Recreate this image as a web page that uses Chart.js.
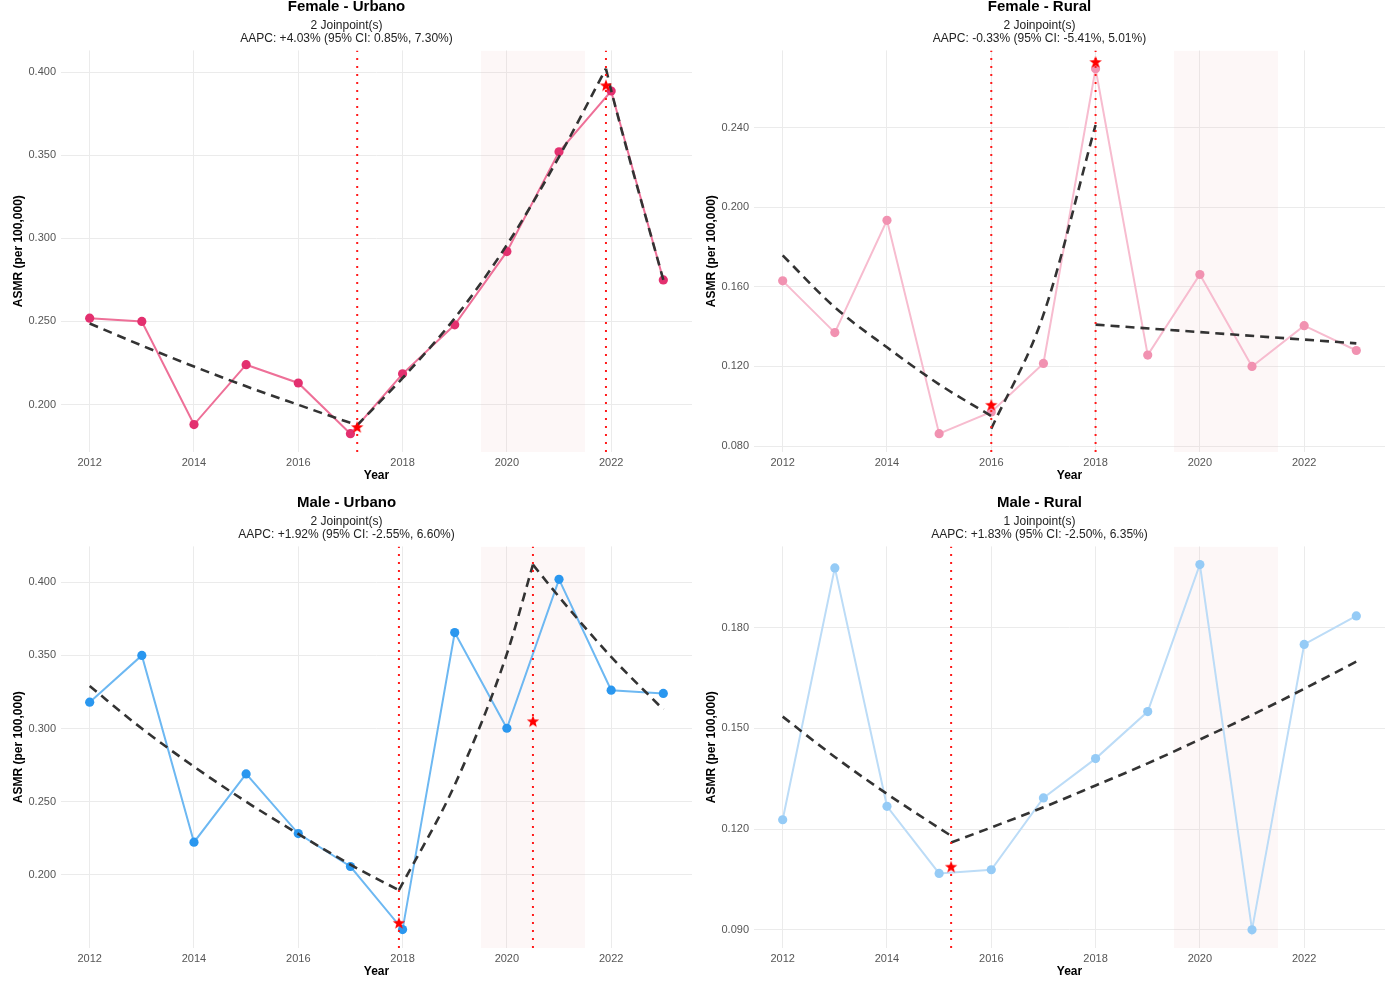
<!DOCTYPE html>
<html>
<head>
<meta charset="utf-8">
<script src="https://cdn.jsdelivr.net/npm/chart.js@4.4.1/dist/chart.umd.min.js"></script>
<style>
  html, body { margin: 0; padding: 0; background: #fff; overflow: hidden; }
  #page { position: relative; width: 1400px; height: 991px; }
  .panel { position: absolute; width: 700px; height: 496px; }
</style>
</head>
<body>
<div id="page">
  <div class="panel" style="left:0;top:-6px"><canvas id="c1"></canvas></div>
  <div class="panel" style="left:693px;top:-6px"><canvas id="c2"></canvas></div>
  <div class="panel" style="left:0;top:490px"><canvas id="c3"></canvas></div>
  <div class="panel" style="left:693px;top:490px"><canvas id="c4"></canvas></div>
</div>
<script>
// observed ASMR per year
const years = [2012, 2013, 2014, 2015, 2016, 2017, 2018, 2019, 2020, 2021, 2022, 2023];
const femaleUrbano = [0.252, 0.250, 0.188, 0.224, 0.213, 0.1825, 0.2185, 0.248, 0.292, 0.352, 0.3886, 0.275];
const femaleRural = [0.163, 0.137, 0.1934, 0.0862, 0.0971, 0.1215, 0.2696, 0.1257, 0.1662, 0.120, 0.1405, 0.128];
const maleUrbano = [0.318, 0.350, 0.2223, 0.269, 0.2282, 0.2057, 0.1626, 0.3656, 0.3002, 0.402, 0.3262, 0.324];
const maleRural = [0.1228, 0.1978, 0.1268, 0.1068, 0.1079, 0.1293, 0.141, 0.155, 0.1988, 0.090, 0.175, 0.1835];

// joinpoint fitted segments (dashed)
const femaleUrbanoFitX = [
    [2012, 2013, 2014, 2015, 2016, 2017, 2017.13],
    [2017.13, 2018, 2019, 2020, 2021, 2021.9],
    [2021.9, 2022, 2023]];
const femaleUrbanoFitY = [
    [0.2488, 0.2355, 0.2229, 0.211, 0.1999, 0.189, 0.1877],
    [0.1877, 0.216, 0.252, 0.296, 0.349, 0.402],
    [0.402, 0.389, 0.275]];
const femaleRuralFitX = [
    [2012, 2013, 2014, 2015, 2016],
    [2016, 2017, 2018],
    [2018, 2023]];
const femaleRuralFitY = [
    [0.1758, 0.1497, 0.1296, 0.111, 0.0951],
    [0.0887, 0.146, 0.2413],
    [0.141, 0.1316]];
const maleUrbanoFitX = [
    [2012, 2013, 2014, 2015, 2016, 2017, 2017.93],
    [2017.93, 2019, 2020, 2020.5],
    [2020.5, 2021, 2022, 2023]];
const maleUrbanoFitY = [
    [0.329, 0.300, 0.274, 0.250, 0.228, 0.207, 0.1895],
    [0.1895, 0.2615, 0.351, 0.412],
    [0.412, 0.390, 0.349, 0.313]];
const maleRuralFitX = [
    [2012, 2013, 2014, 2015, 2015.23],
    [2015.23, 2016, 2017, 2018, 2019, 2020, 2021, 2022, 2023]];
const maleRuralFitY = [
    [0.1535, 0.1415, 0.1305, 0.1203, 0.118],
    [0.116, 0.1205, 0.1265, 0.133, 0.1396, 0.1467, 0.154, 0.1618, 0.1699]];

// joinpoints and star markers
const femaleUrbanoJP = [2017.13, 2021.9];
const femaleUrbanoStar = [0.1865, 0.392];
const femaleRuralJP = [2016, 2018];
const femaleRuralStar = [0.1007, 0.273];
const maleUrbanoJP = [2017.93, 2020.5];
const maleUrbanoStar = [0.1672, 0.305];
const maleRuralJP = [2015.23];
const maleRuralStar = [0.1088];

// shaded period
const shadeYears = [2019.5, 2021.5];

// axes
const xRange = [2011.45, 2023.55];
const xTicks = [2012, 2014, 2016, 2018, 2020, 2022];
const femaleUrbanoRange = [0.1715, 0.413];
const femaleRuralRange = [0.077, 0.2788];
const maleUrbanoRange = [0.150, 0.4245];
const maleRuralRange = [0.0846, 0.2042];
const femaleUrbanoTicks = [0.200, 0.250, 0.300, 0.350, 0.400];
const femaleRuralTicks = [0.080, 0.120, 0.160, 0.200, 0.240];
const maleUrbanoTicks = [0.200, 0.250, 0.300, 0.350, 0.400];
const maleRuralTicks = [0.090, 0.120, 0.150, 0.180];

const FONT = "'Liberation Sans', Arial, Helvetica, sans-serif";
Chart.defaults.font.family = FONT;

// red star marker
function makeStar() {
    const c = document.createElement('canvas');
    c.width = 14; c.height = 14;
    const g = c.getContext('2d');
    g.fillStyle = '#ff0000';
    g.beginPath();
    for (let i = 0; i < 10; i++) {
        const r = i % 2 === 0 ? 6.5 : 2.7;
        const a = -Math.PI / 2 + i * Math.PI / 5;
        const px = 7 + r * Math.cos(a), py = 7.5 + r * Math.sin(a);
        if (i === 0) g.moveTo(px, py); else g.lineTo(px, py);
    }
    g.closePath();
    g.fill();
    return c;
}
const starImg = makeStar();

function buildChart(id, cfg) {
    const datasets = [];
    const yMin = cfg.range[0], yMax = cfg.range[1];

    datasets.push({
        data: [{x: shadeYears[0], y: yMax}, {x: shadeYears[1], y: yMax}],
        showLine: true, borderWidth: 0, pointRadius: 0,
        fill: 'start', backgroundColor: 'rgba(240, 190, 190, 0.12)',
        order: 10
    });

    datasets.push({
        data: years.map((y, i) => ({x: y, y: cfg.values[i]})),
        showLine: true, borderColor: cfg.lineColor, borderWidth: 2,
        pointRadius: 4.6, pointBackgroundColor: cfg.pointColor, pointBorderWidth: 0,
        order: 3
    });

    cfg.fitX.forEach((xs, k) => {
        datasets.push({
            data: xs.map((x, j) => ({x: x, y: cfg.fitY[k][j]})),
            showLine: true, borderColor: '#333333', borderWidth: 2.6,
            borderDash: [9, 6], pointRadius: 0, order: 2,
            cubicInterpolationMode: 'monotone'
        });
    });

    cfg.jp.forEach(j => {
        datasets.push({
            data: [{x: j, y: yMin}, {x: j, y: yMax}],
            showLine: true, borderColor: '#ff1a1a', borderWidth: 2,
            borderDash: [2, 6], pointRadius: 0, order: 1
        });
    });

    datasets.push({
        data: cfg.jp.map((j, i) => ({x: j, y: cfg.star[i]})),
        pointStyle: starImg, pointRadius: 7, order: 0
    });

    new Chart(document.getElementById(id), {
        type: 'scatter',
        data: {datasets},
        options: {
            responsive: true,
            maintainAspectRatio: false,
            animation: false,
            events: [],
            layout: {padding: {top: 0, right: 7, bottom: 0, left: 0}},
            plugins: {
                legend: {display: false},
                tooltip: {enabled: false},
                title: {
                    display: true, text: cfg.title, color: '#000',
                    font: {size: 15, weight: 'bold', lineHeight: 1.2},
                    padding: {top: 4, bottom: 0}
                },
                subtitle: {
                    display: true, text: cfg.subtitle, color: '#222',
                    font: {size: 12, lineHeight: 1.1},
                    padding: {top: 3, bottom: 5}
                }
            },
            scales: {
                x: {
                    type: 'linear', min: xRange[0], max: xRange[1],
                    afterBuildTicks: s => { s.ticks = xTicks.map(v => ({value: v})); },
                    afterFit: s => { s.height = 38; },
                    ticks: {
                        autoSkip: false, maxRotation: 0, padding: 4, color: '#555',
                        font: {size: 11}, callback: v => String(v)
                    },
                    grid: {color: '#ebebeb', lineWidth: 1, drawTicks: false},
                    border: {display: false},
                    title: {
                        display: true, text: 'Year', color: '#000',
                        font: {size: 12, weight: 'bold', lineHeight: 1.2},
                        padding: {top: 0, bottom: 7}
                    }
                },
                y: {
                    type: 'linear', min: yMin, max: yMax,
                    afterBuildTicks: s => { s.ticks = cfg.ticks.map(v => ({value: v})); },
                    afterFit: s => { s.width = 61; },
                    ticks: {
                        padding: 5, color: '#555', font: {size: 11},
                        callback: v => v.toFixed(3)
                    },
                    grid: {color: '#ebebeb', lineWidth: 1, drawTicks: false},
                    border: {display: false},
                    title: {
                        display: true, text: 'ASMR (per 100,000)', color: '#000',
                        font: {size: 12, weight: 'bold', lineHeight: 1.2},
                        padding: {top: 11, bottom: 0}
                    }
                }
            }
        }
    });
}

buildChart('c1', {
    title: 'Female - Urbano',
    subtitle: ['2 Joinpoint(s)', 'AAPC: +4.03% (95% CI: 0.85%, 7.30%)'],
    values: femaleUrbano, fitX: femaleUrbanoFitX, fitY: femaleUrbanoFitY,
    jp: femaleUrbanoJP, star: femaleUrbanoStar,
    range: femaleUrbanoRange, ticks: femaleUrbanoTicks,
    lineColor: '#ee7098', pointColor: '#e3306f'
});
buildChart('c2', {
    title: 'Female - Rural',
    subtitle: ['2 Joinpoint(s)', 'AAPC: -0.33% (95% CI: -5.41%, 5.01%)'],
    values: femaleRural, fitX: femaleRuralFitX, fitY: femaleRuralFitY,
    jp: femaleRuralJP, star: femaleRuralStar,
    range: femaleRuralRange, ticks: femaleRuralTicks,
    lineColor: '#f7bccf', pointColor: '#f192b1'
});
buildChart('c3', {
    title: 'Male - Urbano',
    subtitle: ['2 Joinpoint(s)', 'AAPC: +1.92% (95% CI: -2.55%, 6.60%)'],
    values: maleUrbano, fitX: maleUrbanoFitX, fitY: maleUrbanoFitY,
    jp: maleUrbanoJP, star: maleUrbanoStar,
    range: maleUrbanoRange, ticks: maleUrbanoTicks,
    lineColor: '#6db8f2', pointColor: '#2a97ef'
});
buildChart('c4', {
    title: 'Male - Rural',
    subtitle: ['1 Joinpoint(s)', 'AAPC: +1.83% (95% CI: -2.50%, 6.35%)'],
    values: maleRural, fitX: maleRuralFitX, fitY: maleRuralFitY,
    jp: maleRuralJP, star: maleRuralStar,
    range: maleRuralRange, ticks: maleRuralTicks,
    lineColor: '#bcdcf7', pointColor: '#95cbf6'
});
</script>
</body>
</html>
